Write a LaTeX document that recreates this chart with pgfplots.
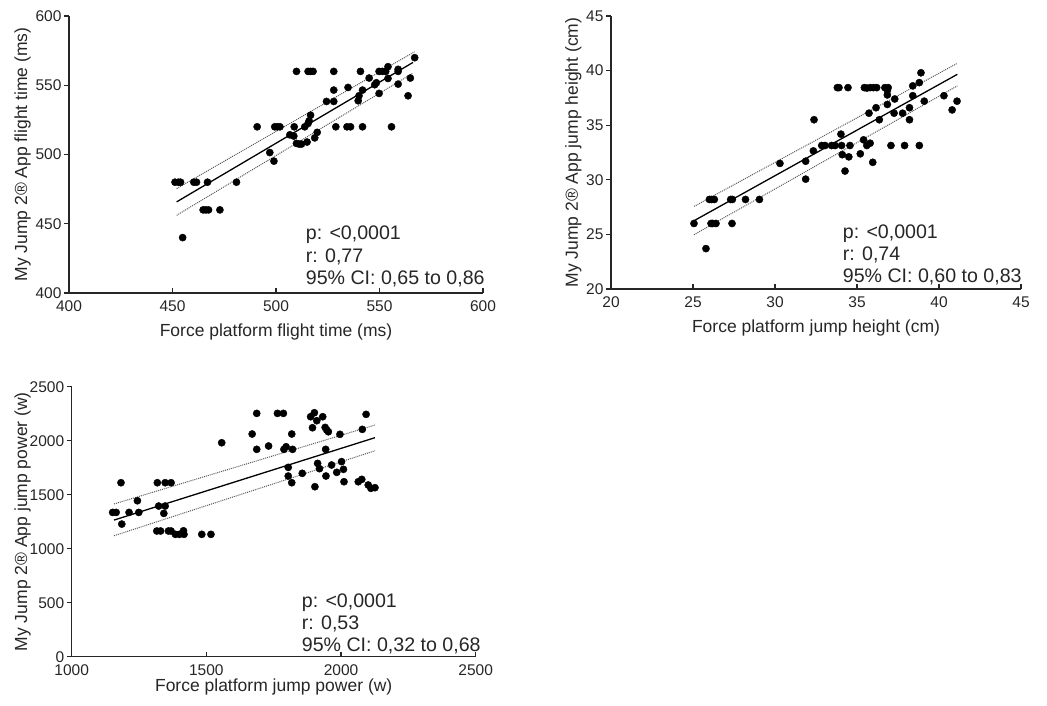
\documentclass[border=0pt]{standalone}
\usepackage{fontspec}
\setmainfont{Liberation Sans}
\usepackage{pgfplots}
\pgfplotsset{compat=1.18}

\pgfplotsset{
  panel/.style={
    scale only axis,
    axis lines=left,
    axis line style={-, line width=1.4pt, black!85},
    xtick align=inside,
    ytick align=outside,
    major tick length=5pt,
    tick style={line width=1.2pt, black!85},
    minor tick num=0,
    scaled ticks=false,
    /pgf/number format/1000 sep={},
    /pgf/number format/assume math mode=true,
    ticklabel style={font=\fontsize{15.5}{18}\selectfont, black!85},
    label style={font=\fontsize{17.5}{20}\selectfont, black!85},
    xticklabel style={yshift=-4pt},
    yticklabel style={xshift=1pt},
    clip=false,
  },
  dots/.style={only marks, mark=*, mark size=3.6pt, black, mark options={draw=black, fill=black}},
  fit/.style={no marks, black, line width=1.3pt},
  band/.style={no marks, black!65, line width=1pt, densely dotted},
}

\begin{document}
\begin{tikzpicture}[x=1pt,y=1pt]
\path[use as bounding box] (0,0) rectangle (1047,705);

% ---- flight time ----
\begin{axis}[panel,
  at={(69pt,412pt)}, anchor=south west,
  width=414pt, height=277pt,
  xmin=400, xmax=600, ymin=400, ymax=600,
  xtick={400,450,...,600}, ytick={400,450,...,600},
  xlabel={Force platform flight time (ms)},
  ylabel={My Jump 2® App flight time (ms)},
  xlabel style={at={(axis description cs:0.5,0)}, anchor=center, yshift=-38.7pt},
  ylabel style={at={(axis description cs:-0.1118,0.5)}, anchor=center},
]
\addplot[dots] table {
x y
451.2 480
452.8 480
453.9 480
460.3 480
461.6 480
466.9 480
480.9 480
464.8 460
466.1 460
467.4 460
472.9 460
454.9 440
490.9 520
497.0 501.4
499.0 495.2
499.4 520
500.6 520
501.9 520
506.7 514.2
508.6 513.3
508.8 520
509.9 508
511.2 507.5
512.3 507.5
515.0 509
513.9 520
515.5 522.4
516.7 528.4
516.0 524.3
518.7 512
519.9 516
509.9 560
515.5 560
516.7 560
517.9 560
527.9 560
524.4 538.3
527.9 538.3
527.9 546.5
528.9 520
534.3 520
536.0 520
534.8 548.4
541.8 520
539.7 538.8
540.1 542.4
541.8 546.5
540.8 560
545.0 555.2
547.7 550.4
548.5 551.8
549.8 544.1
549.8 560
551.4 560
553.0 560
554.1 563.4
554.1 554.9
555.8 520
559.0 560
559.0 561.5
559.0 550.8
563.8 542.4
564.9 555.2
567.0 569.9
};
\addplot[fit] coordinates {(452,465.8) (566.2,566.5)};
\addplot[band] coordinates {(452,475.4) (567,574.2)};
\addplot[band] coordinates {(452,456.1) (566,558.6)};
\end{axis}
\node[anchor=west, font=\fontsize{19.6}{22}\selectfont, black!85, inner sep=0] at (305.7,470) {p: <0,0001};
\node[anchor=west, font=\fontsize{19.6}{22}\selectfont, black!85, inner sep=0] at (305.7,448) {r: 0,77};
\node[anchor=west, font=\fontsize{19.6}{22}\selectfont, black!85, inner sep=0] at (305.7,426) {95\% CI: 0,65 to 0,86};

% ---- jump height ----
\begin{axis}[panel,
  at={(611pt,416pt)}, anchor=south west,
  width=410pt, height=273pt,
  xmin=20, xmax=45, ymin=20, ymax=45,
  xtick={20,25,...,45}, ytick={20,25,...,45},
  xlabel={Force platform jump height (cm)},
  ylabel={My Jump 2® App jump height (cm)},
  xlabel style={at={(axis description cs:0.5,0)}, anchor=center, yshift=-39pt},
  ylabel style={at={(axis description cs:-0.092,0.5)}, anchor=center},
]
\addplot[dots] table {
x y
25.06 26.0
25.79 23.7
26.00 28.2
26.14 28.2
26.30 28.2
26.10 26.0
26.20 26.0
26.40 26.0
27.30 28.2
27.40 28.2
27.38 26.0
28.20 28.2
29.05 28.2
30.30 31.5
31.87 31.7
31.87 30.06
32.38 35.5
32.34 32.65
32.85 33.14
33.05 33.14
33.45 33.14
33.66 33.14
34.06 33.14
34.02 34.18
34.10 32.3
34.50 32.1
34.27 30.8
34.57 33.14
33.80 38.44
33.90 38.44
34.45 38.44
35.45 38.44
35.60 38.4
35.80 38.44
36.00 38.44
36.20 38.44
36.70 38.44
36.90 38.44
36.85 38.2
36.85 37.77
35.20 32.38
35.40 33.66
35.60 33.14
35.80 33.35
35.96 31.6
35.73 36.1
36.16 36.6
36.36 35.5
36.85 36.9
37.07 33.14
37.26 36.1
37.30 37.4
37.78 36.1
37.90 33.14
38.20 36.6
38.20 35.5
38.40 37.7
38.40 38.6
38.80 38.9
38.90 39.8
38.80 33.14
39.10 37.2
40.30 37.7
40.80 36.4
41.10 37.2
};
\addplot[fit] coordinates {(25.06,26.25) (41.12,39.66)};
\addplot[band] coordinates {(25.06,27.56) (41.12,40.67)};
\addplot[band] coordinates {(25.06,24.97) (41.12,38.6)};
\end{axis}
\node[anchor=west, font=\fontsize{19.6}{22}\selectfont, black!85, inner sep=0] at (842.7,471.7) {p: <0,0001};
\node[anchor=west, font=\fontsize{19.6}{22}\selectfont, black!85, inner sep=0] at (842.7,450) {r: 0,74};
\node[anchor=west, font=\fontsize{19.6}{22}\selectfont, black!85, inner sep=0] at (842.7,428.3) {95\% CI: 0,60 to 0,83};

% ---- jump power ----
\begin{axis}[panel,
  at={(71.7pt,48.3pt)}, anchor=south west,
  width=404pt, height=270pt,
  xmin=1000, xmax=2500, ymin=0, ymax=2500,
  xtick={1000,1500,2000,2500}, ytick={0,500,...,2500},
  xlabel={Force platform jump power (w)},
  ylabel={My Jump 2® App jump power (w)},
  xlabel style={at={(axis description cs:0.5,0)}, anchor=center, yshift=-30pt},
  ylabel style={at={(axis description cs:-0.1213,0.5)}, anchor=center},
]
\addplot[dots] table {
x y
1152 1336
1165 1336
1186 1228
1183 1611
1213 1336
1244 1444
1249 1336
1318 1611
1347 1611
1369 1611
1323 1395
1347 1395
1342 1327
1316 1164
1330 1164
1359 1164
1369 1164
1385 1133
1400 1133
1417 1133
1415 1166
1483 1133
1517 1133
1557 1981
1670 2062
1687 2253
1687 1920
1731 1951
1764 2253
1786 2253
1788 1920
1796 1944
1817 2062
1820 1920
1804 1753
1804 1673
1817 1611
1856 1698
1887 2222
1901 2259
1910 2185
1932 2222
1894 2120
1941 2123
1947 2099
1953 2083
1943 1920
1903 1574
1913 1790
1920 1741
1944 1673
1965 1775
1984 1707
1996 2059
2002 1806
2009 1735
2011 1620
2064 1620
2077 1642
2079 2105
2093 2244
2101 1590
2111 1559
2126 1565
};
\addplot[fit] coordinates {(1157,1265) (2126,2028)};
\addplot[band] coordinates {(1157,1414) (2126,2145)};
\addplot[band] coordinates {(1157,1120) (2126,1907)};
\end{axis}
\node[anchor=west, font=\fontsize{19.6}{22}\selectfont, black!85, inner sep=0] at (301.7,102.3) {p: <0,0001};
\node[anchor=west, font=\fontsize{19.6}{22}\selectfont, black!85, inner sep=0] at (301.7,80.7) {r: 0,53};
\node[anchor=west, font=\fontsize{19.6}{22}\selectfont, black!85, inner sep=0] at (301.7,59) {95\% CI: 0,32 to 0,68};
\end{tikzpicture}
\end{document}
